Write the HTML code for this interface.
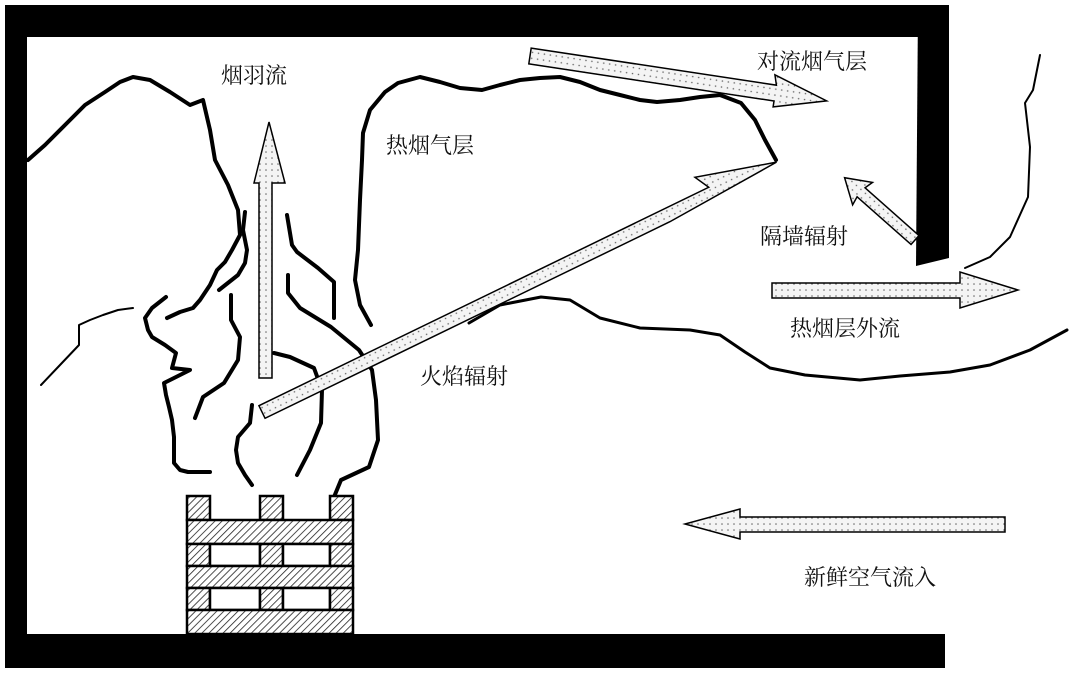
<!DOCTYPE html>
<html><head><meta charset="utf-8"><style>
html,body{margin:0;padding:0;background:#fff;}
svg{display:block;}
text{font-family:"Liberation Serif","Noto Serif CJK SC",serif;font-size:22px;fill:#111;}
</style></head><body>
<svg width="1080" height="687" viewBox="0 0 1080 687" xmlns="http://www.w3.org/2000/svg">
<defs>
<pattern id="dots" width="6" height="6" patternUnits="userSpaceOnUse">
<rect width="6" height="6" fill="#f4f4f4"/><circle cx="2" cy="2" r="0.8" fill="#666"/>
</pattern>
<pattern id="hatch" width="5" height="5" patternUnits="userSpaceOnUse" patternTransform="rotate(45)">
<rect width="5" height="5" fill="#fff"/><line x1="0" y1="0" x2="0" y2="5" stroke="#222" stroke-width="1.6"/>
</pattern>
</defs>
<!-- frame -->
<rect x="5" y="5" width="943" height="32" fill="#000"/>
<rect x="5" y="5" width="22" height="663" fill="#000"/>
<rect x="5" y="634" width="940" height="34" fill="#000"/>
<polygon points="918,5 949,5 949,258 916,266" fill="#000"/>

<g fill="none" stroke="#000" stroke-linejoin="round" stroke-linecap="round">
<polyline stroke-width="4" points="28,160 45,145 65,125 85,105 105,92 120,82 133,77 150,80 170,92 190,105 203,100 210,130 215,160 228,185 238,210 240,235 232,250 225,262 217,270 210,285 200,300 193,308 180,312 167,318"/>
<polyline stroke-width="2" points="41,385 60,365 79,345 79,325 90,320 103,315 118,310 133,308"/>
<polyline stroke-width="4" points="166,297 152,308 145,318 148,330 152,337 165,345 176,353 172,368 190,370 164,383 166,395 169,407 172,420 174,437 174,463 180,470 188,472 210,472"/>
<polyline stroke-width="4" points="219,290 238,275 245,263 247,250 243,230 245,212"/>
<polyline stroke-width="4" points="231,295 231,320 240,337 238,360 224,383 203,397 195,418"/>
<polyline stroke-width="4" points="252,405 250,423 238,437 236,450 238,463 245,475 252,485"/>
<polyline stroke-width="4" points="274,353 290,357 314,368 322,390 321,423 310,450 297,475"/>
<polyline stroke-width="4" points="288,275 288,293 300,308 331,327 359,350 372,370 376,400 378,440 369,467 341,480 334,497"/>
<polyline stroke-width="4" points="287,215 292,245 297,252 318,268 334,282 334,318"/>
<polyline stroke-width="4" points="371,325 360,305 355,280 358,250 360,200 362,160 363,133 370,110 385,92 398,83 420,77 440,82 460,88 482,90 500,85 520,80 540,78 560,77 580,82 600,90 620,95 640,100 657,102 680,100 700,97 720,95 741,103 755,120 765,140 776,160"/>
<polyline stroke-width="3" points="469,323 500,305 541,297 570,300 600,318 640,328 690,330 720,335 745,352 770,368 805,375 860,380 900,376 950,372 990,365 1030,350 1067,330"/>
<polyline stroke-width="2" points="1040,55 1033,90 1025,103 1030,147 1028,197 1010,237 990,257 965,268"/>
</g>

<g fill="url(#dots)" stroke="#000" stroke-width="1.5" stroke-linejoin="miter">
<polygon points="259,378 259,183 254,183 269,122 285,183 272,183 272,378"/>
<g transform="translate(262,412) rotate(-25.9)">
<polygon points="0,-7 500,-7 492,-22 572,0 450,7 0,7"/>
</g>
<g transform="translate(530,56) rotate(8.6)">
<polygon points="0,-8 248,-8 245,-18 300,0 248,14 248,8 0,8"/>
</g>
<g transform="translate(915,240) rotate(-138.5)">
<polygon points="0,-6 72,-6 70,-15 94,0 70,15 72,6 0,6"/>
</g>
<polygon points="772,283 960,283 960,272 1018,290 960,308 960,298 772,298"/>
<polygon points="1005,517 740,517 740,509 685,524 740,539 740,532 1005,532"/>
</g>

<g stroke="#000" stroke-width="2.5">
<rect x="187" y="496" width="23" height="24" fill="url(#hatch)"/>
<rect x="260" y="496" width="23" height="24" fill="url(#hatch)"/>
<rect x="330" y="496" width="23" height="24" fill="url(#hatch)"/>
<rect x="187" y="520" width="166" height="24" fill="url(#hatch)"/>
<rect x="187" y="544" width="23" height="22" fill="url(#hatch)"/>
<rect x="210" y="544" width="50" height="22" fill="#fff"/>
<rect x="260" y="544" width="23" height="22" fill="url(#hatch)"/>
<rect x="283" y="544" width="47" height="22" fill="#fff"/>
<rect x="330" y="544" width="23" height="22" fill="url(#hatch)"/>
<rect x="187" y="566" width="166" height="22" fill="url(#hatch)"/>
<rect x="187" y="588" width="23" height="22" fill="url(#hatch)"/>
<rect x="210" y="588" width="50" height="22" fill="#fff"/>
<rect x="260" y="588" width="23" height="22" fill="url(#hatch)"/>
<rect x="283" y="588" width="47" height="22" fill="#fff"/>
<rect x="330" y="588" width="23" height="22" fill="url(#hatch)"/>
<rect x="187" y="610" width="166" height="24" fill="url(#hatch)"/>
</g>

<text x="221" y="83">烟羽流</text>
<text x="757" y="69">对流烟气层</text>
<text x="386" y="153">热烟气层</text>
<text x="760" y="244">隔墙辐射</text>
<text x="790" y="336">热烟层外流</text>
<text x="420" y="384">火焰辐射</text>
<text x="804" y="585">新鲜空气流入</text>
</svg>
</body></html>
